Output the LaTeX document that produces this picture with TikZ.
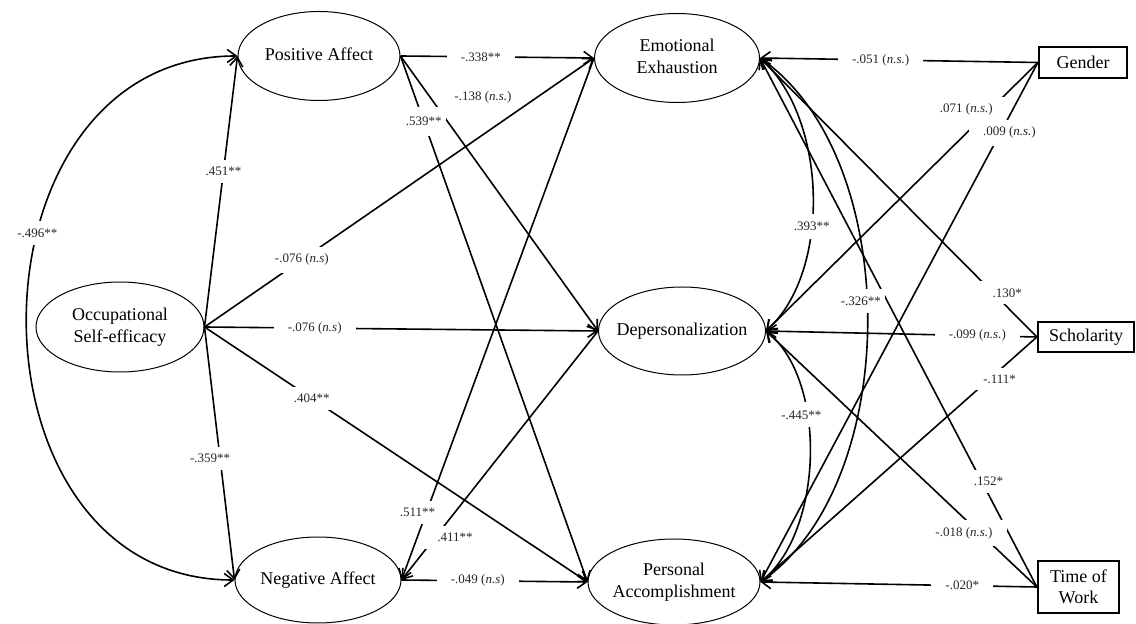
\documentclass[tikz,border=0pt]{standalone}
\usepackage{fontspec}
\setmainfont{Liberation Serif}
\usetikzlibrary{arrows.meta,shapes.geometric}
\newcommand{\ctxt}[1]{\makebox[0pt]{\begin{tabular}{@{}c@{}}#1\end{tabular}}}
\begin{document}
\begin{tikzpicture}[x=0.5pt,y=0.5pt,
  ell/.style={ellipse, draw, line width=0.5pt, inner sep=0pt, font=\fontsize{9}{11}\selectfont},
  box/.style={rectangle, draw, line width=1.1pt, inner sep=0pt, align=center, font=\fontsize{9}{10.5}\selectfont},
  arr/.style={-{Straight Barb[length=4.5pt,width=6.5pt]}, line width=0.8pt},
  arr2/.style={{Straight Barb[length=4.5pt,width=6.5pt]}-{Straight Barb[length=4.5pt,width=6.5pt]}, line width=0.8pt},
  lbl/.style={fill=white, inner xsep=7pt, inner ysep=3.5pt, font=\fontsize{6.5}{7.5}\selectfont, text=black!85},
  lblc/.style={lbl, inner xsep=2pt, inner ysep=4pt}]
\useasboundingbox (0,0) rectangle (1136,-624);
% nodes
\node[ell, minimum width=81pt, minimum height=44.5pt] (pa) at (319,-56) {\ctxt{Positive Affect}};
\node[ell, minimum width=84pt, minimum height=45pt] (ose) at (120,-327) {\ctxt{Occupational\\Self-efficacy}};
\node[ell, minimum width=83pt, minimum height=43pt] (na) at (318,-580) {\ctxt{Negative Affect}};
\node[ell, minimum width=82.5pt, minimum height=44.5pt] (ee) at (677,-58) {\ctxt{Emotional\\Exhaustion}};
\node[ell, minimum width=83.5pt, minimum height=44pt] (dp) at (682,-331) {\ctxt{Depersonalization}};
\node[ell, minimum width=86pt, minimum height=43pt] (pac) at (674,-582) {\ctxt{Personal\\Accomplishment}};
\node[box, minimum width=44pt, minimum height=15.5pt] (gender) at (1083,-62.5) {Gender};
\node[box, minimum width=48pt, minimum height=15pt] (sch) at (1086,-337) {Scholarity};
\node[box, minimum width=40.5pt, minimum height=26pt] (tw) at (1078.5,-587) {Time of\\Work};
% left block
\draw[arr] (ose.east) -- node[lbl,pos=.574]{.451**} (pa.west);
\draw[arr] (ose.east) -- node[lbl,pos=.52,xshift=-5pt]{-.359**} (na.west);
\draw[arr2] (pa.west) to[out=180,in=180,looseness=1.36] node[lblc,pos=.39]{-.496**} (na.west);
\draw[arr] (ose.east) -- node[lbl,pos=.25]{-.076 (\textit{n.s})} (ee.west);
\draw[arr] (ose.east) -- node[lbl,pos=.28]{-.076 (\textit{n.s})} (dp.west);
\draw[arr] (ose.east) -- node[lbl,pos=.28]{.404**} (pac.west);
% middle block
\draw[arr] (pa.east) -- node[lbl,pos=.415]{-.338**} (ee.west);
\draw[arr] (pa.east) -- (dp.west);
\node[lbl, fill=none, inner sep=1pt] (l138) at (483,-97) {-.138 (\textit{n.s.})};
\draw[arr] (pa.east) -- node[lblc,pos=.124,inner ysep=5pt]{.539**} (pac.west);
\draw[arr] (ee.west) -- node[lbl,pos=.87,xshift=-4.5pt]{.511**} (na.east);
\draw[arr] (dp.west) -- node[lbl,pos=.83,xshift=10pt]{.411**} (na.east);
\draw[arr] (na.east) -- node[lbl,pos=.41]{-.049 (\textit{n.s})} (pac.west);
% right block
\draw[arr] (gender.west) -- node[lbl,pos=.566]{-.051 (\textit{n.s.})} (ee.east);
\draw[arr] (gender.west) -- node[lbl,pos=.175,xshift=-12pt]{.071 (\textit{n.s.})} (dp.east);
\draw[arr] (gender.west) -- node[lbl,pos=.135,xshift=4.5pt]{.009 (\textit{n.s.})} (pac.east);
\draw[arr] (sch.west) -- node[lbl,pos=.158,xshift=7pt]{.130*} (ee.east);
\draw[arr] (sch.west) -- node[lbl,pos=.22]{-.099 (\textit{n.s.})} (dp.east);
\draw[arr] (sch.west) -- node[lbl,pos=.171,xshift=5pt]{-.111*} (pac.east);
\draw[arr] (tw.west) -- node[lbl,pos=.2,xshift=3.5pt]{.152*} (ee.east);
\draw[arr] (tw.west) -- node[lbl,pos=.21,xshift=-8pt]{-.018 (\textit{n.s.})} (dp.east);
\draw[arr] (tw.west) -- node[lbl,pos=.27]{-.020*} (pac.east);
% covariances among outcomes
\draw[arr2] (ee.east) .. controls (827,-118) and (832,-271) .. node[lblc,pos=.6]{.393**} (dp.east);
\draw[arr2] (ee.east) .. controls (903,-158) and (903,-482) .. node[lblc,pos=.47,xshift=-3pt]{-.326**} (pac.east);
\draw[arr2] (dp.east) .. controls (828,-381) and (823,-532) .. node[lblc,pos=.36,xshift=-3pt]{-.445**} (pac.east);
\end{tikzpicture}
\end{document}
